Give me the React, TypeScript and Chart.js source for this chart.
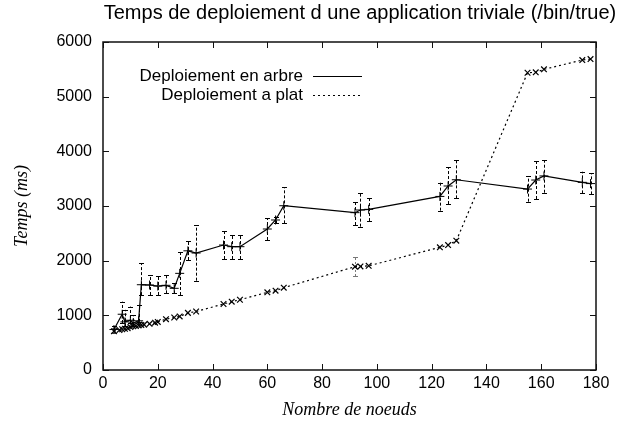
import { useEffect, useRef } from "react";
import { Chart, registerables } from "chart.js";

Chart.register(...registerables);

const TITLE = "Temps de deploiement d une application triviale (/bin/true)";
const X_TITLE = "Nombre de noeuds";
const Y_TITLE = "Temps (ms)";
const TREE_LABEL = "Deploiement en arbre";
const FLAT_LABEL = "Deploiement a plat";

const xTicks = [0, 20, 40, 60, 80, 100, 120, 140, 160, 180];
const yTicks = [0, 1000, 2000, 3000, 4000, 5000, 6000];

const treeNodes = [4, 7, 8, 10, 11, 13, 14, 17, 20, 23, 26, 28, 31, 34, 44, 47, 50, 60, 63, 66, 92, 94, 97, 123, 126, 129, 155, 158, 161, 175, 178];
const treeTimes = [740, 1020, 880, 910, 860, 900, 1560, 1555, 1536, 1549, 1494, 1768, 2180, 2140, 2286, 2256, 2256, 2579, 2744, 3005, 2878, 2927, 2939, 3175, 3366, 3480, 3310, 3475, 3550, 3433, 3410];
const treeLow = [680, 860, 800, 860, 800, 880, 1370, 1372, 1372, 1403, 1400, 1372, 2012, 1634, 2030, 2030, 2030, 2378, 2683, 2683, 2652, 2622, 2725, 2915, 3036, 3140, 3079, 3128, 3243, 3231, 3212];
const treeHigh = [800, 1250, 1100, 1160, 1000, 1190, 1950, 1738, 1719, 1738, 1585, 2164, 2359, 2652, 2543, 2469, 2469, 2775, 2805, 3341, 3078, 3232, 3155, 3426, 3710, 3841, 3549, 3823, 3841, 3627, 3597];

const flatNodes = [4, 6, 7, 8, 9, 10, 11, 12, 13, 14, 15, 17, 19, 20, 23, 26, 28, 31, 34, 44, 47, 50, 60, 63, 66, 92, 94, 97, 123, 126, 129, 155, 158, 161, 175, 178];
const flatTimes = [710, 730, 745, 755, 765, 785, 800, 805, 815, 825, 830, 845, 865, 880, 930, 960, 980, 1045, 1070, 1207, 1250, 1285, 1421, 1451, 1506, 1890, 1895, 1905, 2244, 2286, 2365, 5438, 5445, 5500, 5670, 5688];
const flatLow = [680, 730, 745, 755, 765, 785, 800, 805, 815, 825, 830, 845, 865, 880, 930, 960, 980, 1045, 1070, 1207, 1250, 1285, 1421, 1451, 1506, 1720, 1895, 1905, 2244, 2286, 2365, 5438, 5445, 5500, 5670, 5688];
const flatHigh = [760, 730, 745, 755, 765, 785, 800, 805, 815, 825, 830, 845, 865, 880, 930, 960, 980, 1045, 1070, 1207, 1250, 1285, 1421, 1451, 1506, 2073, 1895, 1905, 2244, 2286, 2365, 5438, 5445, 5500, 5670, 5688];

const SANS = '"Liberation Sans", Arial, sans-serif';
const SERIF = '"Liberation Serif", "Times New Roman", serif';

function drawErrorBars(ctx: CanvasRenderingContext2D, chart: any, xs: number[], lo: number[], hi: number[], color: string, dash: number[]) {
  const xs_ = chart.scales.x;
  const ys_ = chart.scales.y;
  ctx.save();
  ctx.strokeStyle = color;
  ctx.lineWidth = 1;
  for (let i = 0; i < xs.length; i++) {
    if (hi[i] - lo[i] < 1) continue;
    const px = Math.round(xs_.getPixelForValue(xs[i])) + 0.5;
    const pLo = ys_.getPixelForValue(lo[i]);
    const pHi = ys_.getPixelForValue(hi[i]);
    ctx.setLineDash(dash);
    ctx.beginPath();
    ctx.moveTo(px, pLo);
    ctx.lineTo(px, pHi);
    ctx.stroke();
    ctx.setLineDash([]);
    ctx.beginPath();
    ctx.moveTo(px - 2.5, Math.round(pLo) + 0.5);
    ctx.lineTo(px + 2.5, Math.round(pLo) + 0.5);
    ctx.moveTo(px - 2.5, Math.round(pHi) + 0.5);
    ctx.lineTo(px + 2.5, Math.round(pHi) + 0.5);
    ctx.stroke();
  }
  ctx.restore();
}

const decorPlugin = {
  id: "decor",
  beforeDatasetsDraw(chart: any) {
    const ctx = chart.ctx;
    drawErrorBars(ctx, chart, treeNodes, treeLow, treeHigh, "#000", [3, 2]);
    drawErrorBars(ctx, chart, flatNodes, flatLow, flatHigh, "#777", [2, 2]);
  },
  afterDraw(chart: any) {
    const ctx: CanvasRenderingContext2D = chart.ctx;
    const a = chart.chartArea;
    const xs = chart.scales.x;
    const ys = chart.scales.y;
    ctx.save();
    ctx.strokeStyle = "#111";
    ctx.lineWidth = 1.5;
    ctx.strokeRect(a.left, a.top, a.right - a.left, a.bottom - a.top);
    ctx.lineWidth = 1;
    ctx.beginPath();
    const tl = 6;
    xTicks.forEach((v) => {
      const px = Math.round(xs.getPixelForValue(v)) + 0.5;
      ctx.moveTo(px, a.bottom);
      ctx.lineTo(px, a.bottom - tl);
      ctx.moveTo(px, a.top);
      ctx.lineTo(px, a.top + tl);
    });
    yTicks.forEach((v) => {
      const py = Math.round(ys.getPixelForValue(v)) + 0.5;
      ctx.moveTo(a.left, py);
      ctx.lineTo(a.left + tl, py);
      ctx.moveTo(a.right, py);
      ctx.lineTo(a.right - tl, py);
    });
    ctx.stroke();

    ctx.fillStyle = "#000";
    ctx.font = `20px ${SANS}`;
    ctx.textAlign = "center";
    ctx.textBaseline = "middle";
    ctx.fillText(TITLE, 360, 13);

    ctx.font = `italic 18px ${SERIF}`;
    ctx.fillText(X_TITLE, (a.left + a.right) / 2, 410);
    ctx.save();
    ctx.translate(22, (a.top + a.bottom) / 2);
    ctx.rotate(-Math.PI / 2);
    ctx.fillText(Y_TITLE, 0, 0);
    ctx.restore();

    ctx.font = `17px ${SANS}`;
    ctx.textAlign = "right";
    ctx.fillText(TREE_LABEL, 303, 76);
    ctx.fillText(FLAT_LABEL, 303, 95);
    ctx.strokeStyle = "#000";
    ctx.lineWidth = 1.2;
    ctx.beginPath();
    ctx.moveTo(313, 76.5);
    ctx.lineTo(362, 76.5);
    ctx.stroke();
    ctx.setLineDash([2, 3]);
    ctx.beginPath();
    ctx.moveTo(313, 95.5);
    ctx.lineTo(362, 95.5);
    ctx.stroke();
    ctx.restore();
  },
};

export default function App() {
  const ref = useRef<HTMLCanvasElement | null>(null);
  useEffect(() => {
    if (!ref.current) return;
    const chart = new Chart(ref.current, {
      type: "line",
      data: {
        datasets: [
          {
            label: TREE_LABEL,
            data: treeNodes.map((x, i) => ({ x, y: treeTimes[i] })),
            borderColor: "#000",
            borderWidth: 1.2,
            pointStyle: "cross",
            pointRadius: 4.5,
            pointBorderWidth: 1,
            pointBorderColor: "#000",
            pointBackgroundColor: "#000",
            tension: 0,
            fill: false,
          },
          {
            label: FLAT_LABEL,
            data: flatNodes.map((x, i) => ({ x, y: flatTimes[i] })),
            borderColor: "#000",
            borderWidth: 1.2,
            borderDash: [2, 3],
            pointStyle: "crossRot",
            pointRadius: 4,
            pointBorderWidth: 1.2,
            pointBorderColor: "#000",
            pointBackgroundColor: "#000",
            tension: 0,
            fill: false,
          },
        ],
      },
      options: {
        responsive: false,
        animation: false,
        events: [],
        layout: { padding: { top: 42, right: 26, bottom: 0, left: 0 } },
        plugins: { legend: { display: false }, tooltip: { enabled: false }, title: { display: false } },
        scales: {
          x: {
            type: "linear",
            min: 0,
            max: 180,
            grid: { display: false, drawTicks: false },
            border: { display: false },
            ticks: {
              stepSize: 20,
              color: "#000",
              padding: 4,
              maxRotation: 0,
              font: { family: SANS, size: 16 },
              callback: (v: any) => String(v),
            },
            afterFit: (s: any) => {
              s.height = 54;
            },
          },
          y: {
            type: "linear",
            min: 0,
            max: 6000,
            grid: { display: false, drawTicks: false },
            border: { display: false },
            ticks: {
              stepSize: 1000,
              color: "#000",
              padding: 11,
              font: { family: SANS, size: 16 },
              callback: (v: any) => String(v),
            },
            afterFit: (s: any) => {
              s.width = 103;
            },
          },
        },
      },
      plugins: [decorPlugin],
    });
    return () => chart.destroy();
  }, []);
  return (
    <div style={{ position: "fixed", left: 0, top: 0, width: 622, height: 424, background: "#fff" }}>
      <canvas ref={ref} width={622} height={424} />
    </div>
  );
}
